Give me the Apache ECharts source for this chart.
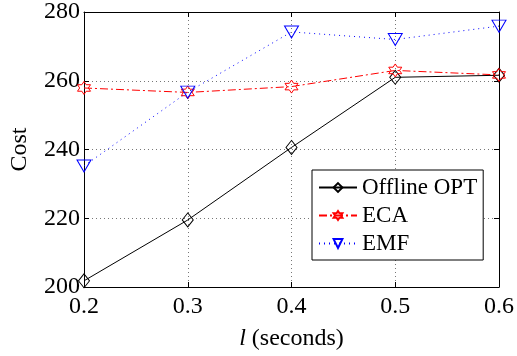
<!DOCTYPE html>
<html>
<head>
<meta charset="utf-8">
<script src="https://cdn.jsdelivr.net/npm/echarts@6/dist/echarts.min.js"></script>
<style>
  html, body { margin: 0; padding: 0; background: #fff; }
  #chart { width: 517px; height: 356px; }
</style>
</head>
<body>
<div id="chart"></div>
<script>
// data
var lengths = ['0.2', '0.3', '0.4', '0.5', '0.6'];
var offlineOpt = [201.8, 219.5, 240.6, 261.0, 261.6];
var ecaCost = [257.9, 256.6, 258.3, 263.0, 261.7];
var emfCost = [235.2, 256.7, 274.2, 272.0, 275.9];
var yTicks = { min: 200, max: 280, step: 20 };

var serif = '"Liberation Serif", "DejaVu Serif", serif';

var chart = echarts.init(document.getElementById('chart'));

// MATLAB style hollow markers
var diamond = 'path://M0,-10 L7.5,0 L0,10 L-7.5,0 Z';
var hexagram = 'path://M0,-10 L2.89,-5 L8.66,-5 L5.77,0 L8.66,5 L2.89,5 L0,10 L-2.89,5 L-8.66,5 L-5.77,0 L-8.66,-5 L-2.89,-5 Z';
var downTri = 'path://M-10,-8 L10,-8 L0,9 Z';

function mirrorAxis(pos) {
    return {
        position: pos,
        axisLine: { show: true, lineStyle: { color: '#000', width: 1 } },
        axisTick: { show: true, inside: true, length: 5, lineStyle: { color: '#000' } },
        axisLabel: { show: false },
        splitLine: { show: false }
    };
}

var option = {
    animation: false,
    backgroundColor: '#fff',
    grid: { left: 81, right: 16, top: 12, bottom: 62 },
    legend: {
        orient: 'vertical',
        left: 312,
        top: 170,
        backgroundColor: '#fff',
        borderColor: '#000',
        borderWidth: 1,
        borderRadius: 0,
        padding: [6, 6, 5, 6],
        itemWidth: 38,
        itemHeight: 11,
        itemGap: 5,
        textStyle: { fontFamily: serif, fontSize: 23, lineHeight: 23, color: '#000' },
        data: ['Offline OPT', 'ECA', 'EMF']
    },
    xAxis: [
        {
            type: 'category',
            data: lengths,
            boundaryGap: false,
            position: 'bottom',
            name: '{i|l} (seconds)',
            nameLocation: 'middle',
            nameGap: 40,
            nameTextStyle: {
                fontFamily: serif, fontSize: 24, color: '#000',
                rich: { i: { fontFamily: serif, fontSize: 24, fontStyle: 'italic', color: '#000' } }
            },
            axisLine: { lineStyle: { color: '#000', width: 1 } },
            axisTick: { inside: true, length: 5, alignWithLabel: true, lineStyle: { color: '#000' } },
            axisLabel: { fontFamily: serif, fontSize: 24, color: '#000', margin: 8 },
            splitLine: { show: true, lineStyle: { color: '#777', type: [1, 3], width: 1 } }
        },
        Object.assign({ type: 'category', data: lengths, boundaryGap: false }, mirrorAxis('top'))
    ],
    yAxis: [
        {
            type: 'value',
            min: yTicks.min,
            max: yTicks.max,
            interval: yTicks.step,
            name: 'Cost',
            nameLocation: 'middle',
            nameGap: 52,
            nameTextStyle: { fontFamily: serif, fontSize: 24, color: '#000' },
            axisLine: { show: true, lineStyle: { color: '#000', width: 1 } },
            axisTick: { show: true, inside: true, length: 5, lineStyle: { color: '#000' } },
            axisLabel: { fontFamily: serif, fontSize: 24, color: '#000', margin: 4 },
            splitLine: { show: true, lineStyle: { color: '#777', type: [1, 3], width: 1 } }
        },
        Object.assign({ type: 'value', min: yTicks.min, max: yTicks.max, interval: yTicks.step }, mirrorAxis('right'))
    ],
    series: [
        {
            name: 'Offline OPT',
            type: 'line',
            data: offlineOpt,
            symbol: diamond,
            symbolSize: [11, 14],
            itemStyle: { color: 'none', borderColor: '#000', borderWidth: 1 },
            lineStyle: { color: '#000', width: 1, type: 'solid' },
            z: 3
        },
        {
            name: 'ECA',
            type: 'line',
            data: ecaCost,
            symbol: hexagram,
            symbolSize: 13,
            itemStyle: { color: 'none', borderColor: '#ff0000', borderWidth: 1 },
            lineStyle: { color: '#ff0000', width: 1, type: [8, 3, 2, 3] },
            z: 4
        },
        {
            name: 'EMF',
            type: 'line',
            data: emfCost,
            symbol: downTri,
            symbolSize: [14, 12],
            itemStyle: { color: 'none', borderColor: '#0000ff', borderWidth: 1 },
            lineStyle: { color: '#0000ff', width: 1, type: [1, 4] },
            z: 5
        }
    ]
};

chart.setOption(option);
</script>
</body>
</html>
